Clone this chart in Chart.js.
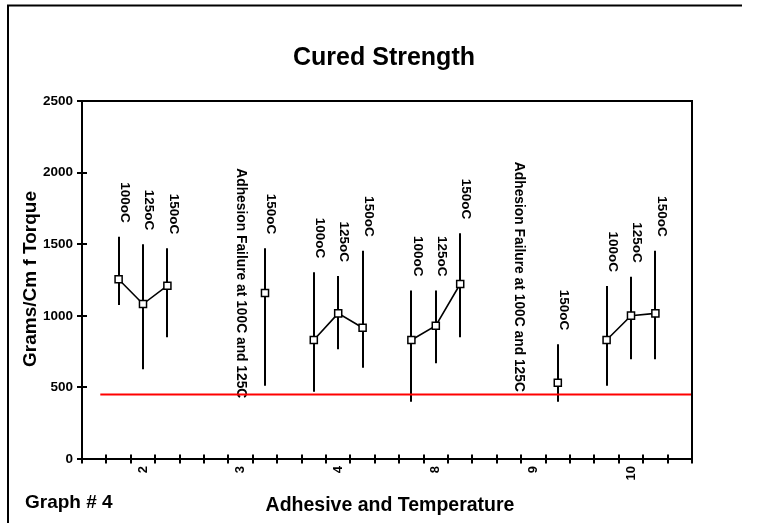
<!DOCTYPE html>
<html>
<head>
<meta charset="utf-8">
<script src="https://cdn.jsdelivr.net/npm/chart.js@4.4.1/dist/chart.umd.min.js"></script>
<style>
  html, body { margin: 0; padding: 0; background: #fff; }
  #wrap { width: 761px; height: 523px; }
</style>
</head>
<body>
<div id="wrap"><canvas id="chart"></canvas></div>
<script>
// =========================
// DATA
// =========================
const groupNames = ["2", "3", "4", "8", "9", "10"];
const groupSlots = [2, 6, 10, 14, 18, 22];

const pointGroup = [0, 0, 0, 1, 2, 2, 2, 3, 3, 3, 4, 5, 5, 5];
const pointSlot = [1, 2, 3, 7, 9, 10, 11, 13, 14, 15, 19, 21, 22, 23];
const pointTemp = ["100oC", "125oC", "150oC", "150oC", "100oC", "125oC", "150oC",
  "100oC", "125oC", "150oC", "150oC", "100oC", "125oC", "150oC"];
const meanVals = [1255, 1082, 1210, 1159, 831, 1017, 917, 831, 931, 1222, 533, 831, 1001, 1017];
const highVals = [1552, 1499, 1471, 1471, 1304, 1278, 1455, 1176, 1176, 1576, 801, 1208, 1273, 1455];
const lowVals = [1075, 626, 850, 512, 470, 766, 638, 400, 668, 850, 400, 512, 696, 696];

const noteText = ["Adhesion Failure at 100C and 125C", "Adhesion Failure at 100C and 125C"];
const noteSlot = [6, 17.4];
const noteTop = [2030, 2075];

const limitVal = 450;
const limitFrom = 0.75;
const limitTo = 25;

const slotCount = 25;
const yMax = 2500;
const yStep = 500;

// =========================
// DATASETS
// =========================
const datasets = groupNames.map((g, gi) => ({
  data: pointSlot
    .map((s, i) => ({ x: s + 0.5, y: meanVals[i], g: pointGroup[i] }))
    .filter(p => p.g === gi),
  borderColor: "#000",
  borderWidth: 1.6,
  pointStyle: "rect",
  pointRadius: 5,
  pointBorderWidth: 1.5,
  pointBackgroundColor: "#fff",
  pointBorderColor: "#000",
  tension: 0
}));

datasets.push({
  data: [{ x: limitFrom, y: limitVal }, { x: limitTo, y: limitVal }],
  borderColor: "#ff0000",
  borderWidth: 2,
  pointRadius: 0
});

const BOLD = '"Liberation Sans", Arial, sans-serif';

// =========================
// DRAWING PLUGIN
// =========================
const extras = {
  id: "extras",
  beforeDatasetsDraw(chart) {
    const { ctx, scales: { x, y } } = chart;
    ctx.save();
    // error bars
    ctx.strokeStyle = "#000";
    ctx.lineWidth = 2;
    pointSlot.forEach((s, i) => {
      const px = Math.round(x.getPixelForValue(s + 0.5));
      ctx.beginPath();
      ctx.moveTo(px, y.getPixelForValue(lowVals[i]));
      ctx.lineTo(px, y.getPixelForValue(highVals[i]));
      ctx.stroke();
    });
    // notes
    ctx.fillStyle = "#000";
    ctx.font = "bold 13.8px " + BOLD;
    ctx.textAlign = "left";
    ctx.textBaseline = "middle";
    noteText.forEach((t, i) => {
      ctx.save();
      ctx.translate(x.getPixelForValue(noteSlot[i] + 0.5), y.getPixelForValue(noteTop[i]));
      ctx.rotate(Math.PI / 2);
      ctx.fillText(t, 0, 0);
      ctx.restore();
    });
    ctx.restore();
  },
  afterDatasetsDraw(chart) {
    const { ctx, scales: { x, y } } = chart;
    ctx.save();
    ctx.fillStyle = "#000";
    ctx.font = "bold 13.5px " + BOLD;
    ctx.textAlign = "right";
    ctx.textBaseline = "middle";
    pointSlot.forEach((s, i) => {
      ctx.save();
      ctx.translate(x.getPixelForValue(s + 0.5) + 6, y.getPixelForValue(highVals[i]) - 14);
      ctx.rotate(Math.PI / 2);
      ctx.fillText(pointTemp[i], 0, 0);
      ctx.restore();
    });
    ctx.restore();
  },
  afterDraw(chart) {
    const { ctx, chartArea: a, scales: { x, y } } = chart;
    ctx.save();
    ctx.strokeStyle = "#000";
    ctx.lineWidth = 2;
    // plot border
    ctx.strokeRect(a.left, a.top, a.right - a.left, a.bottom - a.top);
    // crossing tick marks
    ctx.beginPath();
    for (let i = 0; i <= slotCount; i++) {
      const px = Math.round(x.getPixelForValue(i));
      ctx.moveTo(px, a.bottom - 4.5);
      ctx.lineTo(px, a.bottom + 4.5);
    }
    for (let v = 0; v <= yMax; v += yStep) {
      const py = Math.round(y.getPixelForValue(v));
      ctx.moveTo(a.left - 5, py);
      ctx.lineTo(a.left + 5, py);
    }
    ctx.stroke();
    // outer frame (top + left)
    ctx.beginPath();
    ctx.moveTo(8, 523);
    ctx.lineTo(8, 5.5);
    ctx.lineTo(742, 5.5);
    ctx.stroke();
    // titles
    ctx.fillStyle = "#000";
    ctx.textBaseline = "alphabetic";
    ctx.textAlign = "center";
    ctx.font = "bold 25px " + BOLD;
    ctx.fillText("Cured Strength", 384, 65);
    ctx.font = "bold 19.5px " + BOLD;
    ctx.fillText("Adhesive and Temperature", 390, 511);
    ctx.textAlign = "left";
    ctx.font = "bold 19px " + BOLD;
    ctx.fillText("Graph # 4", 25, 508);
    ctx.save();
    ctx.translate(36, 279);
    ctx.rotate(-Math.PI / 2);
    ctx.textAlign = "center";
    ctx.fillText("Grams/Cm f Torque", 0, 0);
    ctx.restore();
    ctx.restore();
  }
};

// =========================
// CHART
// =========================
new Chart(document.getElementById("chart"), {
  type: "line",
  data: { datasets },
  options: {
    responsive: true,
    maintainAspectRatio: false,
    animation: false,
    events: [],
    layout: { padding: { left: 0, right: 69, top: 101, bottom: 0 } },
    plugins: {
      legend: { display: false },
      title: { display: false },
      tooltip: { enabled: false }
    },
    scales: {
      x: {
        type: "linear",
        min: 0,
        max: slotCount,
        afterBuildTicks: s => { s.ticks = groupSlots.map(v => ({ value: v + 0.5 })); },
        afterFit: s => { s.height = 64; },
        grid: { display: false, drawTicks: false, tickLength: 0 },
        border: { display: false },
        ticks: {
          autoSkip: false,
          minRotation: 90,
          maxRotation: 90,
          padding: 7,
          color: "#000",
          font: { family: BOLD, size: 13, weight: "bold" },
          callback: (v, i) => groupNames[i]
        }
      },
      y: {
        min: 0,
        max: yMax,
        afterFit: s => { s.width = 82; },
        grid: { display: false, drawTicks: false, tickLength: 0 },
        border: { display: false },
        ticks: {
          stepSize: yStep,
          padding: 9,
          color: "#000",
          font: { family: BOLD, size: 13.5, weight: "bold" },
          callback: v => String(v)
        }
      }
    }
  },
  plugins: [extras]
});
</script>
</body>
</html>
